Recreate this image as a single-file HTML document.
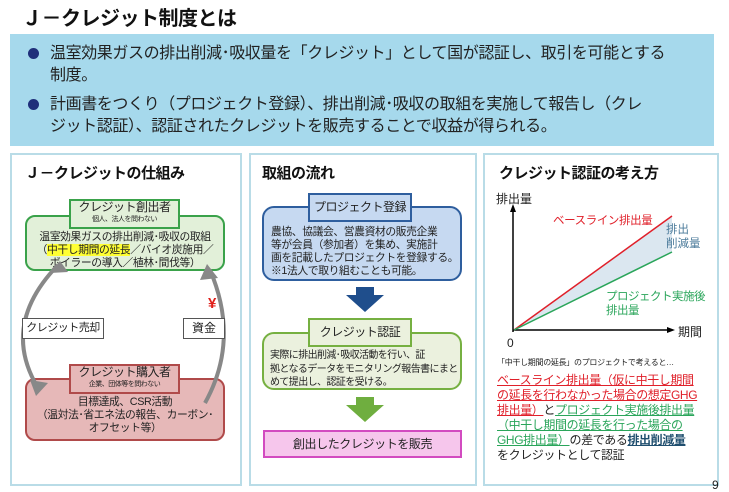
<!DOCTYPE html>
<html><head><meta charset="utf-8"><style>
*{margin:0;padding:0;box-sizing:border-box}
body{width:729px;height:490px;background:#fff;position:relative;overflow:hidden;font-family:"Liberation Sans","Noto Sans CJK JP",sans-serif;color:#222}
.a{position:absolute}
.c{text-align:center}
.panel{position:absolute;border:2px solid #b9dce7;background:#fff}
.ttl{font-weight:bold;font-size:15px;color:#111;letter-spacing:-0.5px;white-space:nowrap}
.hd{position:absolute;border:2px solid;text-align:center;font-size:12px;line-height:1.15;white-space:nowrap;letter-spacing:-0.5px;overflow:hidden}
.nw{white-space:nowrap}
</style></head><body>
<div class="a" style="left:22px;top:2px;font-size:20px;font-weight:bold;color:#111;letter-spacing:-0.5px">Ｊ－クレジット制度とは</div>
<div class="a" style="left:10px;top:34px;width:704px;height:112px;background:#a6d9ec"></div>
<div class="a" style="left:28px;top:43px;font-size:16px;line-height:22px;width:690px;letter-spacing:-0.4px">
<div style="position:relative;padding-left:22px"><span style="position:absolute;left:0;top:5px;width:11px;height:11px;border-radius:50%;background:#1f2f7a"></span>温室効果ガスの排出削減･吸収量を「クレジット」として国が認証し、取引を可能とする<br>制度。</div>
<div style="position:relative;padding-left:22px;margin-top:7px"><span style="position:absolute;left:0;top:5px;width:11px;height:11px;border-radius:50%;background:#1f2f7a"></span>計画書をつくり（プロジェクト登録）、排出削減･吸収の取組を実施して報告し（クレ<br>ジット認証）、認証されたクレジットを販売することで収益が得られる。</div>
</div>

<div class="panel" style="left:10px;top:153px;width:232px;height:333px"></div>
<div class="panel" style="left:249px;top:153px;width:228px;height:333px"></div>
<div class="panel" style="left:483px;top:153px;width:236px;height:333px"></div>

<!-- left -->
<div class="a ttl" style="left:25px;top:162px">Ｊ－クレジットの仕組み</div>
<div class="a" style="left:25px;top:215px;width:200px;height:56px;background:#e2f0d9;border:2px solid #3aa24a;border-radius:10px"></div>
<div class="hd" style="left:69px;top:199px;width:111px;height:30px;background:#e2f0d9;border-color:#3aa24a">クレジット創出者<br><span style="font-size:7px;display:block;line-height:9px">個人、法人を問わない</span></div>
<div class="a c nw" style="left:25px;top:231px;width:200px;font-size:10.8px;line-height:13px;letter-spacing:-0.4px">温室効果ガスの排出削減･吸収の取組<br>（<span style="background:#ffff33">中干し期間の延長</span>／バイオ炭施用／<br>ボイラーの導入／植林･間伐等）</div>
<div class="a" style="left:25px;top:378px;width:200px;height:63px;background:#e6b8b8;border:2px solid #b04a4a;border-radius:10px"></div>
<div class="hd" style="left:69px;top:364px;width:111px;height:30px;background:#e6b8b8;border-color:#b04a4a">クレジット購入者<br><span style="font-size:7px;display:block;line-height:9px">企業、団体等を問わない</span></div>
<div class="a c nw" style="left:27px;top:396px;width:196px;font-size:10.8px;line-height:13px;letter-spacing:-0.4px">目標達成、CSR活動<br>（温対法･省エネ法の報告、カーボン･<br>オフセット等）</div>
<svg class="a" style="left:0;top:0" width="729" height="490">
<path d="M58 265 Q0 325 38 388" fill="none" stroke="#888" stroke-width="4"/>
<polygon points="36,396 48,383 30,380" fill="#888"/>
<path d="M205 403 Q240 340 210 270" fill="none" stroke="#888" stroke-width="4"/>
<polygon points="207,264 200,280 218,278" fill="#888"/>
<polygon points="60,261 50,273 68,272" fill="#888"/>
</svg>
<div class="a nw" style="left:22px;top:318px;width:82px;height:21px;border:1px solid #555;background:#fff;font-size:11px;text-align:center;line-height:19px;letter-spacing:-0.5px">クレジット売却</div>
<div class="a" style="left:183px;top:318px;width:42px;height:21px;border:1px solid #555;background:#fff;font-size:12px;text-align:center;line-height:19px">資金</div>
<div class="a" style="left:208px;top:295px;color:#e0201b;font-size:15px;font-weight:bold">¥</div>

<!-- middle -->
<div class="a ttl" style="left:262px;top:162px">取組の流れ</div>
<div class="a" style="left:262px;top:206px;width:200px;height:75px;background:#c6d9f1;border:2px solid #2e5e9e;border-radius:12px"></div>
<div class="hd" style="left:308px;top:193px;width:104px;height:29px;background:#c6d9f1;border-color:#2e5e9e;line-height:25px">プロジェクト登録</div>
<div class="a nw" style="left:271px;top:226px;width:188px;font-size:10.8px;line-height:13px;letter-spacing:-0.4px">農協、協議会、営農資材の販売企業<br>等が会員（参加者）を集め、実施計<br>画を記載したプロジェクトを登録する。<br>※1法人で取り組むことも可能。</div>
<svg class="a" style="left:0;top:0" width="729" height="490">
<polygon points="356,287 374,287 374,295 384,295 365,312 346,295 356,295" fill="#1f4e8c"/>
<polygon points="356,397 374,397 374,405 384,405 365,422 346,405 356,405" fill="#6fae3f"/>
</svg>
<div class="a" style="left:262px;top:332px;width:200px;height:58px;background:#ebf1de;border:2px solid #76b041;border-radius:12px"></div>
<div class="hd" style="left:308px;top:318px;width:104px;height:29px;background:#ebf1de;border-color:#76b041;line-height:25px">クレジット認証</div>
<div class="a nw" style="left:270px;top:349px;width:190px;font-size:10px;line-height:13.5px;letter-spacing:-0.6px">実際に排出削減･吸収活動を行い、証<br>拠となるデータをモニタリング報告書にまと<br>めて提出し、認証を受ける。</div>
<div class="a c nw" style="left:263px;top:430px;width:199px;height:28px;background:#f6c6ec;border:2px solid #d24bc0;font-size:12px;line-height:24px;letter-spacing:-0.4px">創出したクレジットを販売</div>

<!-- right -->
<div class="a ttl" style="left:499px;top:162px">クレジット認証の考え方</div>
<div class="a" style="left:496px;top:190px;font-size:12px">排出量</div>
<svg class="a" style="left:0;top:0" width="729" height="490">
<polygon points="514,330 672,216 672,252" fill="#dbe7f0"/>
<line x1="513" y1="332" x2="513" y2="210" stroke="#000" stroke-width="1.5"/>
<polygon points="513,204 510,212 516,212" fill="#000"/>
<line x1="513" y1="330" x2="668" y2="330" stroke="#000" stroke-width="1.5"/>
<polygon points="675,330 667,327 667,333" fill="#000"/>
<line x1="514" y1="330" x2="672" y2="216" stroke="#e0202a" stroke-width="1.5"/>
<line x1="514" y1="330" x2="672" y2="252" stroke="#2aa55a" stroke-width="1.5"/>
</svg>
<div class="a nw" style="left:553px;top:212px;font-size:11.5px;color:#e0202a;letter-spacing:-0.4px">ベースライン排出量</div>
<div class="a" style="left:666px;top:223px;font-size:11.5px;color:#4a7a9a;line-height:14px">排出<br>削減量</div>
<div class="a nw" style="left:606px;top:290px;font-size:11.5px;color:#2aa55a;line-height:14px;letter-spacing:-0.5px">プロジェクト実施後<br>排出量</div>
<div class="a" style="left:678px;top:323px;font-size:12px">期間</div>
<div class="a" style="left:507px;top:336px;font-size:12px">0</div>
<div class="a nw" style="left:497px;top:357px;font-size:8px;letter-spacing:-0.3px">「中干し期間の延長」のプロジェクトで考えると…</div>
<div class="a nw" style="left:497px;top:373px;width:222px;font-size:12px;line-height:15px;letter-spacing:-0.4px">
<span style="color:#e0202a;text-decoration:underline">ベースライン排出量（仮に中干し期間<br>の延長を行わなかった場合の想定GHG<br>排出量）</span>と<span style="color:#2aa55a;text-decoration:underline">プロジェクト実施後排出量<br>（中干し期間の延長を行った場合の<br>GHG排出量）</span>の差である<b style="color:#1f4e6e;text-decoration:underline">排出削減量</b><br>をクレジットとして認証</div>
<div class="a" style="left:712px;top:478px;font-size:12px">9</div>
</body></html>
